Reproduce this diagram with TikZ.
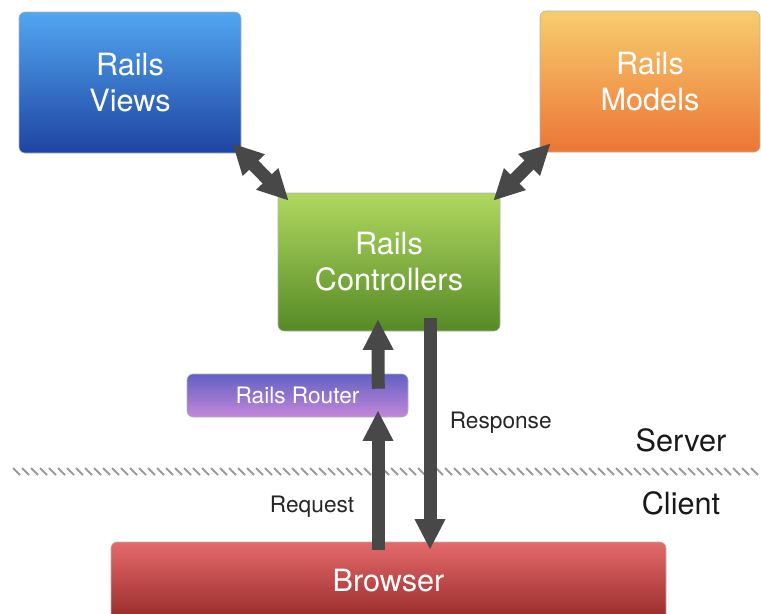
\documentclass[tikz,border=0pt]{standalone}
\usepackage{fontspec}
\setmainfont{TeX Gyre Heros}
\usetikzlibrary{
        arrows.meta,
        positioning,
        shapes
    }
\definecolor{arrowgray}{HTML}{484848}
\definecolor{hatchgray}{HTML}{9A9A9A}
\tikzset{>={Triangle[width=21.5pt,length=23pt]}}
\tikzset{
    block/.style={rectangle,rounded corners=4.5pt,draw=black!30,line width=0.4pt,
        text=white,align=center,inner sep=0pt,
        font=\fontsize{23}{27}\selectfont},
    fatarrow/.style={draw=arrowgray,line width=9.75pt},
    hatch/.style={draw=hatchgray,line width=1.4pt},
    lbl/.style={text=black!85,inner sep=0pt,font=\fontsize{17}{20}\selectfont},
    side/.style={text=black!90,inner sep=0pt,font=\fontsize{23}{27}\selectfont}
}

\begin{document}
\begin{tikzpicture}[x=0.75pt,y=-0.75pt]
                        \useasboundingbox (0,0) rectangle (761,614);
                        % boxes
                        \node[block,minimum width=166.5pt,minimum height=105.75pt,
                            top color={rgb,255:red,82;green,166;blue,240},bottom color={rgb,255:red,30;green,68;blue,162}]
                            (views) at (130,82.5) {Rails\\Views};
                        \node[block,minimum width=165pt,minimum height=105.75pt,
                            top color={rgb,255:red,247;green,205;blue,110},bottom color={rgb,255:red,236;green,117;blue,53}]
                            (models) at (650,81.5) {Rails\\Models};
                        \node[block,minimum width=166.5pt,minimum height=103.5pt,
                            top color={rgb,255:red,176;green,216;blue,96},bottom color={rgb,255:red,86;green,138;blue,38}]
                            (ctrl) at (389,262) {Rails\\Controllers};
                        \node[block,minimum width=165.75pt,minimum height=32.25pt,font=\fontsize{17}{20}\selectfont,
                            top color={rgb,255:red,97;green,97;blue,196},bottom color={rgb,255:red,196;green,135;blue,217}]
                            (router) at (297.5,395.5) {Rails Router};
                        \node[block,minimum width=416.25pt,minimum height=58.5pt,
                            top color={rgb,255:red,228;green,106;blue,106},bottom color={rgb,255:red,152;green,42;blue,42}]
                            (browser) at (388.5,581) {Browser};
                        % server / client divider
                        \foreach \x in {13,22,...,756}
                            \draw[hatch] (\x,468) -- ++(7,7);
                        \node[side] (server) at (681,440) {Server};
                        \node[side] (client) at (681,503) {Client};
                        % arrows
                        \draw[fatarrow,<->] ([shift={(-9,-10)}]views.south east) -- ([shift={(11,8)}]ctrl.north west);
                        \draw[fatarrow,<->] ([shift={(11,-9)}]models.south west) -- ([shift={(-7,8)}]ctrl.north east);
                        \draw[fatarrow,->] ([shift={(-30,15)}]router.north east) -- ([shift={(-11,-12)}]ctrl.south);
                        \draw[fatarrow,->] ([shift={(-10.5,8)}]browser.north) -- ([shift={(80.5,-7)}]router.south)
                            node[lbl,pos=0.31,left=13pt] (request) {Request};
                        \draw[fatarrow,->] ([shift={(41,-13)}]ctrl.south) -- ([shift={(41.5,8)}]browser.north)
                            node[lbl,pos=0.45,right=10pt] (response) {Response};
                    \end{tikzpicture}
\end{document}
